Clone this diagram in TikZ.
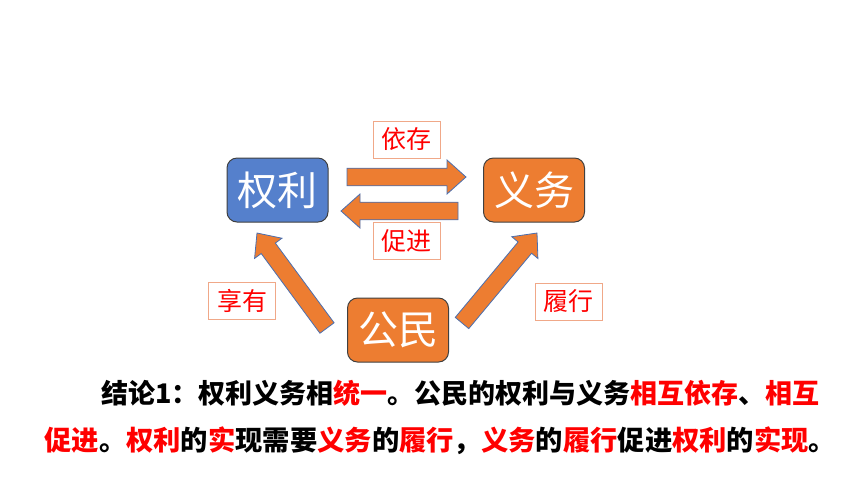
\documentclass[tikz,border=0pt]{standalone}
\usepackage{fontspec}
\usepackage{tikz}
\usetikzlibrary{
  calc,
  positioning
}
\newfontfamily\cjk{Noto Sans CJK SC}
\definecolor{boxblue}{HTML}{5580CC}
\definecolor{boxorange}{HTML}{ED7D31}
\definecolor{arrowline}{HTML}{4A6FB0}
\definecolor{labelline}{HTML}{F0A888}
\newcommand\redtxt[1]{\textcolor{red}{#1}}
% fat arrow from #1 to #2
\newcommand\blockarrow[2]{%
  \coordinate (ba-h) at ($(#2)!9.5pt!(#1)$);
  \draw[fatarrow]
    ($(#1)!4.4pt!90:(#2)$) -- ($(ba-h)!4.4pt!-90:(#1)$)
    -- ($(ba-h)!8.5pt!-90:(#1)$) -- (#2)
    -- ($(ba-h)!8.5pt!90:(#1)$) -- ($(ba-h)!4.4pt!90:(#1)$)
    -- ($(#1)!4.4pt!-90:(#2)$) -- cycle;
}
\tikzset{
  mainbox/.style={rounded corners=5pt, draw=black!75, line width=0.5pt,
    minimum width=50.5pt, minimum height=32pt, text=white,
    font=\cjk\fontsize{20pt}{23pt}\selectfont},
  labelbox/.style={draw=labelline, fill=white, line width=0.5pt,
    minimum width=33.5pt, minimum height=18.5pt, text=red,
    font=\cjk\fontsize{12.5pt}{15pt}\selectfont},
  fatarrow/.style={fill=boxorange, draw=arrowline, line width=0.4pt},
  concl/.style={anchor=west, inner sep=0pt,
    font=\cjk\bfseries\fontsize{13.5pt}{16pt}\selectfont}
}

\begin{document}
\begin{tikzpicture}[x=0.5pt, y=-0.5pt]
\useasboundingbox (0,0) rectangle (860,484);
\node[mainbox, fill=boxblue] (quanli) at (277.5,190) {权利};
\node[mainbox, fill=boxorange] (yiwu) at (534,190) {义务};
\node[mainbox, fill=boxorange] (gongmin) at (398,330) {公民};
\node[labelbox] (yicun) at (406.5,139.5) {依存};
\node[labelbox] (cujin) at (406.5,241) {促进};
\node[labelbox] (xiangyou) at (242,300.5) {享有};
\node[labelbox] (lvxing) at (568.5,301.5) {履行};
% arrow ends
\coordinate (top-s) at (347,177);
\coordinate (top-e) at (466,177);
\coordinate (bot-s) at (458,211);
\coordinate (bot-e) at (341,211);
\coordinate (left-s) at (327,328);
\coordinate (left-e) at (257,233);
\coordinate (right-s) at (462,323);
\coordinate (right-e) at (537,233);
\blockarrow{top-s}{top-e}
\blockarrow{bot-s}{bot-e}
\blockarrow{left-s}{left-e}
\blockarrow{right-s}{right-e}
% conclusion
\node[concl] (concl1) at (101,393)
  {结论1：权利义务相\redtxt{统一}。公民的权利与义务\redtxt{相互依存}、\redtxt{相互}};
\node[concl, font=\cjk\bfseries\fontsize{13.65pt}{16pt}\selectfont] (concl2) at (44,441)
  {\redtxt{促进}。\redtxt{权利}的\redtxt{实}现需要\redtxt{义务}的\redtxt{履行}，\redtxt{义务}的\redtxt{履行}促进\redtxt{权利}的\redtxt{实现}。};
\end{tikzpicture}
\end{document}
